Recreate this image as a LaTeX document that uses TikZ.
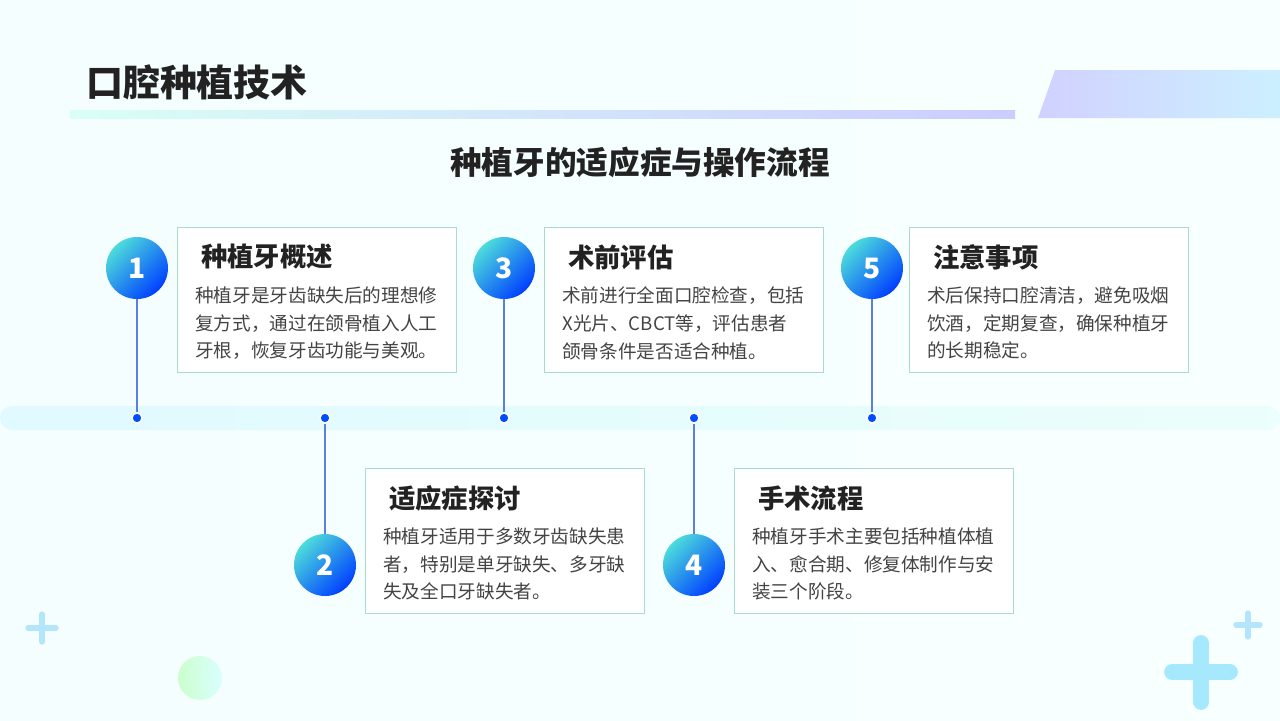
\documentclass[tikz,border=0pt]{standalone}
\usepackage{fontspec}
\setmainfont{Noto Sans CJK SC}
\usetikzlibrary{shadings}

\definecolor{ink}{HTML}{222222}
\definecolor{body}{HTML}{444444}
\definecolor{cardline}{HTML}{A8DCD0}
\definecolor{linkblue}{HTML}{5B7FE0}

\tikzstyle{card}=[rectangle, draw=cardline, fill=white, line width=0.6pt,
                  minimum width=5.58cm, minimum height=2.9cm, anchor=north west]
\tikzstyle{cardtitle}=[anchor=west, text=ink, font=\fontsize{15}{18}\selectfont\bfseries]
\tikzstyle{cardtext}=[anchor=north west, text=body, align=left, inner sep=0,
                      font=\fontsize{10.6}{15.9}\selectfont]
\tikzstyle{stepball}=[circle, minimum size=1.24cm, inner sep=0, text=white,
                      font=\fontsize{16}{18}\selectfont\bfseries,
                      shading=axis, top color=cyan!60!teal!70, bottom color=blue!75!cyan,
                      shading angle=45]
\tikzstyle{dot}=[circle, fill=blue!70!cyan, draw=white, line width=0.8pt,
                 minimum size=0.2cm, inner sep=0]
\tikzstyle{link}=[linkblue, line width=0.6pt]

\begin{document}
\begin{tikzpicture}[x=0.02cm, y=-0.02cm]
  \useasboundingbox (0,0) rectangle (1280,720);

  %%%%%%%%%%%%%%%%%%%%%%%%%%%%%%
  % background
  \shade[left color=blue!6!cyan!4, right color=green!6!cyan!3] (0,0) rectangle (1280,720);
  \shade[left color=green!25!cyan!15, right color=blue!20] (70,110) rectangle (1015,118);
  \shade[left color=blue!18, right color=blue!30!cyan!20] (1055,70) -- (1280,70) -- (1280,118) -- (1038,118) -- cycle;

  %%%%%%%%%%%%%%%%%%%%%%%%%%%%%%
  % titles
  \node (title) at (80,82) [anchor=west, text=ink, font=\fontsize{21}{24}\selectfont\bfseries] {口腔种植技术};
  \node (subtitle) at (640,162) [text=ink, font=\fontsize{18}{22}\selectfont\bfseries] {种植牙的适应症与操作流程};

  %%%%%%%%%%%%%%%%%%%%%%%%%%%%%%
  % timeline
  \shade[rounded corners=0.24cm, left color=blue!18!cyan!12, right color=green!20!cyan!8] (0,406) rectangle (1280,430);

  \node (d1) at (137,418) [dot] {};
  \node (d2) at (325,418) [dot] {};
  \node (d3) at (504,418) [dot] {};
  \node (d4) at (694,418) [dot] {};
  \node (d5) at (872,418) [dot] {};

  %%%%%%%%%%%%%%%%%%%%%%%%%%%%%%
  % steps
  \node (s1) at (137,268) [stepball] {1};
  \node (s2) at (325,565) [stepball] {2};
  \node (s3) at (504,268) [stepball] {3};
  \node (s4) at (694,565) [stepball] {4};
  \node (s5) at (872,268) [stepball] {5};

  \draw [link] (s1) to (d1);
  \draw [link] (s2) to (d2);
  \draw [link] (s3) to (d3);
  \draw [link] (s4) to (d4);
  \draw [link] (s5) to (d5);

  %%%%%%%%%%%%%%%%%%%%%%%%%%%%%%
  % cards
  \node (c1) at (177,227) [card] {};
  \node (c1t) at (195,257) [cardtitle] {种植牙概述};
  \node (c1b) at (195,286) [cardtext] {种植牙是牙齿缺失后的理想修\\复方式，通过在颌骨植入人工\\牙根，恢复牙齿功能与美观。};

  \node (c2) at (365,468) [card] {};
  \node (c2t) at (383,498) [cardtitle] {适应症探讨};
  \node (c2b) at (383,527) [cardtext] {种植牙适用于多数牙齿缺失患\\者，特别是单牙缺失、多牙缺\\失及全口牙缺失者。};

  \node (c3) at (544,227) [card] {};
  \node (c3t) at (562,257) [cardtitle] {术前评估};
  \node (c3b) at (562,286) [cardtext] {术前进行全面口腔检查，包括\\X光片、CBCT等，评估患者\\颌骨条件是否适合种植。};

  \node (c4) at (734,468) [card] {};
  \node (c4t) at (752,498) [cardtitle] {手术流程};
  \node (c4b) at (752,527) [cardtext] {种植牙手术主要包括种植体植\\入、愈合期、修复体制作与安\\装三个阶段。};

  \node (c5) at (909,227) [card] {};
  \node (c5t) at (927,257) [cardtitle] {注意事项};
  \node (c5b) at (927,286) [cardtext] {术后保持口腔清洁，避免吸烟\\饮酒，定期复查，确保种植牙\\的长期稳定。};

  %%%%%%%%%%%%%%%%%%%%%%%%%%%%%%
  % decorations
  \draw [cyan!30, line width=3pt, line cap=round] (28,628) -- (56,628) (42,614) -- (42,642);
  \draw [cyan!30, line width=3pt, line cap=round] (1236,625) -- (1260,625) (1248,613) -- (1248,637);
  \draw [blue!25!cyan!35, line width=9pt, line cap=round] (1172,672) -- (1230,672) (1201,643) -- (1201,702);
  \shade [left color=green!20, right color=cyan!15] (200,678) circle (22);

\end{tikzpicture}
\end{document}
